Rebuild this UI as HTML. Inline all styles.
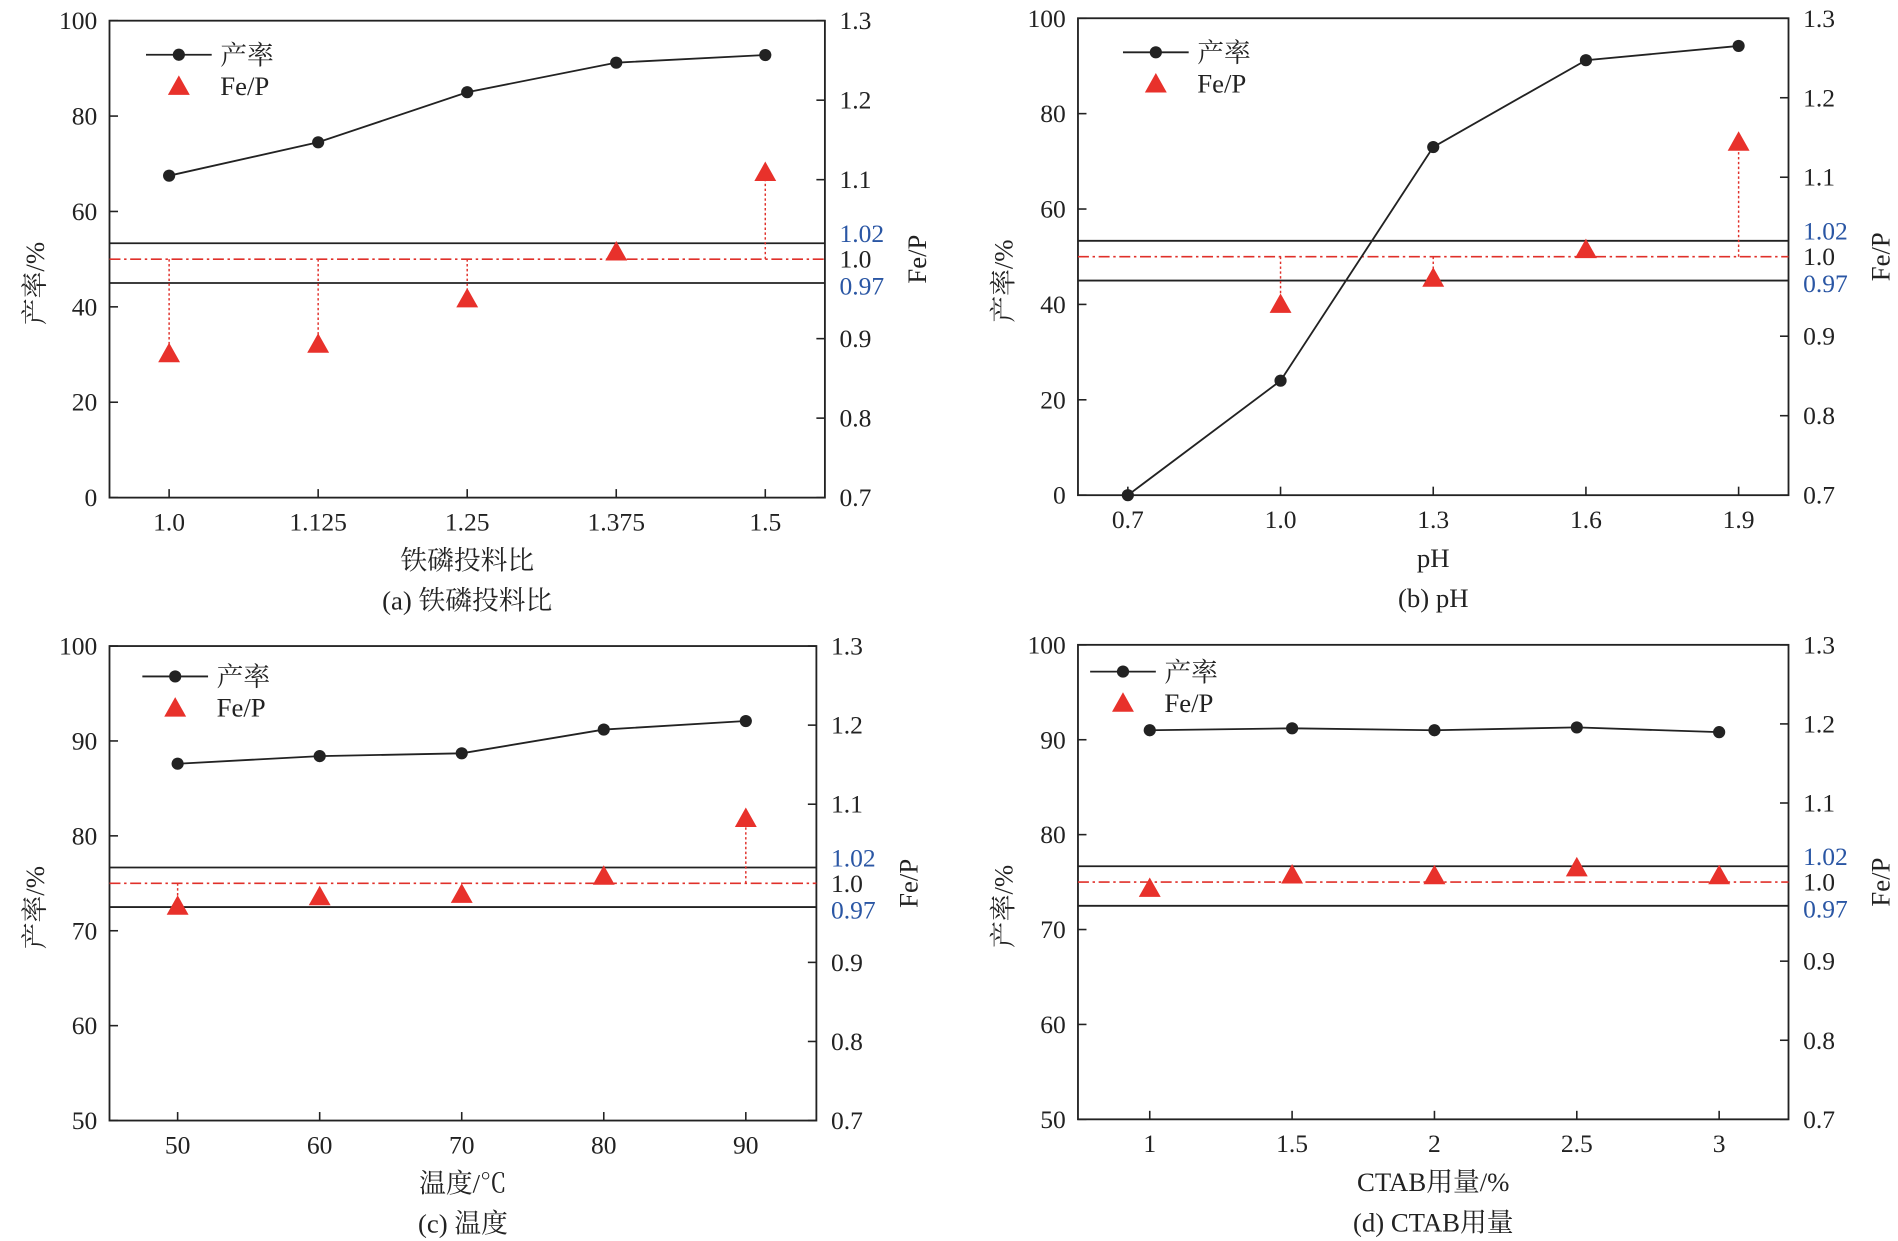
<!DOCTYPE html>
<html><head><meta charset="utf-8">
<style>
html,body{margin:0;padding:0;background:#fff;}
svg{display:block;}
text{font-family:"Liberation Serif","Noto Serif CJK SC",serif;fill:#222;}
</style></head>
<body>
<svg id="fig" width="1898" height="1241" viewBox="0 0 1560 1020" xmlns="http://www.w3.org/2000/svg"></svg>
<script>
// Panel (a)
const aCats = ["1.0","1.125","1.25","1.375","1.5"];
const aYield = [67.5, 74.5, 85, 91.2, 92.8];
const aFeP = [0.881, 0.893, 0.950, 1.009, 1.109];
const aYTicks = [0,20,40,60,80,100];
// Panel (b)
const bCats = ["0.7","1.0","1.3","1.6","1.9"];
const bYield = [0, 24, 73, 91.2, 94.2];
const bFeP = [null, 0.940, 0.973, 1.009, 1.144];
const bYTicks = [0,20,40,60,80,100];
// Panel (c)
const cCats = ["50","60","70","80","90"];
const cYield = [87.6, 88.4, 88.7, 91.2, 92.1];
const cFeP = [0.971, 0.983, 0.986, 1.009, 1.082];
const cYTicks = [50,60,70,80,90,100];
// Panel (d)
const dCats = ["1","1.5","2","2.5","3"];
const dYield = [91, 91.2, 91, 91.3, 90.8];
const dFeP = [0.992, 1.009, 1.008, 1.018, 1.008];
const dYTicks = [50,60,70,80,90,100];
const rTicks = ["0.7","0.8","0.9","1.1","1.2","1.3"];

const NS="http://www.w3.org/2000/svg";
const svg=document.getElementById('fig');
function mk(tag,attrs,parent,txt){const e=document.createElementNS(NS,tag);for(const k in attrs)e.setAttribute(k,attrs[k]);if(txt!==undefined)e.textContent=txt;(parent||svg).appendChild(e);return e;}

function panel(p){
  const g=mk('g',{});
  
  
  const L=p.l,R=p.r,T=p.t,B=p.b;
  const ymin=p.yt[0],ymax=p.yt[p.yt.length-1];
  const Y=v=>B-(v-ymin)/(ymax-ymin)*(B-T);
  const Y2=v=>B-(v-0.7)/0.6*(B-T);
  const X=i=>p.x0+i*(p.x1-p.x0)/(p.cats.length-1);
  const fr=mk('rect',{x:L,y:T,width:R-L,height:B-T,fill:'none',stroke:'#222','stroke-width':1.5},g);
  
  p.yt.forEach(v=>{
    mk('line',{x1:L,x2:L+7,y1:Y(v),y2:Y(v),stroke:'#222','stroke-width':1.3},g);
    const t=mk('text',{x:L-10,y:Y(v)+7,'text-anchor':'end','font-size':21},g,String(v));
    
  });
  rTicks.forEach(s=>{
    const v=parseFloat(s);
    mk('line',{x1:R-7,x2:R,y1:Y2(v),y2:Y2(v),stroke:'#222','stroke-width':1.3},g);
    const t=mk('text',{x:R+12,y:Y2(v)+7,'font-size':21},g,s);
    
  });
  [['1.02','#2a56a4',-21],['1.0','#222',0],['0.97','#2a56a4',22]].forEach(a=>{
    const t=mk('text',{x:R+12,y:Y2(1.0)+7+a[2],'font-size':21,style:'fill:'+a[1]},g,a[0]);
    
  });
  p.cats.forEach((c,i)=>{
    mk('line',{x1:X(i),x2:X(i),y1:B,y2:B-7,stroke:'#222','stroke-width':1.3},g);
    const t=mk('text',{x:X(i),y:B+27,'text-anchor':'middle','font-size':21},g,c);
    
  });
  [1.02,0.97].forEach(v=>{
    const l=mk('line',{x1:L,x2:R,y1:Y2(v),y2:Y2(v),stroke:'#222','stroke-width':1.5},g);
    
  });
  const ref=mk('line',{x1:L,x2:R,y1:Y2(1.0),y2:Y2(1.0),stroke:'#e0302a','stroke-width':1.3,'stroke-dasharray':'9 3 2 3'},g);
  
  p.fep.forEach((v,i)=>{
    if(v!==null && Math.abs(v-1)>0.02){
      const d=mk('line',{x1:X(i),x2:X(i),y1:Y2(1.0),y2:Y2(v),stroke:'#e0302a','stroke-width':1.2,'stroke-dasharray':'2 2'},g);
      
    }
  });
  const pts=p.yld.map((v,i)=>X(i)+','+Y(v)).join(' ');
  const pl=mk('polyline',{points:pts,fill:'none',stroke:'#222','stroke-width':1.5},g);
  
  p.yld.forEach((v,i)=>{
    const c=mk('circle',{cx:X(i),cy:Y(v),r:5,fill:'#222'},g);
    
  });
  p.fep.forEach((v,i)=>{
    if(v===null) return;
    const x=X(i),y=Y2(v);
    const tr=mk('polygon',{points:`${x},${y-9} ${x-9},${y+7} ${x+9},${y+7}`,fill:'#e8312b'},g);
    
  });
  const lx=p.lx,ly=p.ly;
  const lg=mk('g',{},g);
  mk('line',{x1:lx,x2:lx+54,y1:ly,y2:ly,stroke:'#222','stroke-width':1.5},lg);
  mk('circle',{cx:lx+27,cy:ly,r:5,fill:'#222'},lg);
  mk('text',{x:lx+61,y:ly+8,'font-size':22},lg,'产率');
  mk('polygon',{points:`${lx+27},${ly+17} ${lx+18},${ly+33} ${lx+36},${ly+33}`,fill:'#e8312b'},lg);
  mk('text',{x:lx+61,y:ly+33,'font-size':22},lg,'Fe/P');
  const yt=mk('text',{x:0,y:0,'font-size':22,'text-anchor':'middle',transform:`translate(${L-54},${(T+B)/2+20}) rotate(-90)`},g,'产率/%');
  
  const y2t=mk('text',{x:0,y:0,'font-size':22,'text-anchor':'middle',transform:`translate(${R+83},${Y2(1.0)}) rotate(-90)`},g,'Fe/P');
  
  const xt=mk('text',{x:(L+R)/2,y:B+59,'font-size':22,'text-anchor':'middle'},g,p.xlab);
  
  const cap=mk('text',{x:(L+R)/2,y:B+92,'font-size':22,'text-anchor':'middle'},g,p.cap);
  
}
panel({id:'a',l:90,r:678,t:17,b:409,x0:139,x1:629,cats:aCats,yld:aYield,fep:aFeP,yt:aYTicks,lx:120,ly:45,xlab:'铁磷投料比',cap:'(a) 铁磷投料比'});
panel({id:'b',l:886,r:1470,t:15,b:407,x0:927,x1:1429,cats:bCats,yld:bYield,fep:bFeP,yt:bYTicks,lx:923,ly:43,xlab:'pH',cap:'(b) pH'});
panel({id:'c',l:90,r:671,t:531,b:921,x0:146,x1:613,cats:cCats,yld:cYield,fep:cFeP,yt:cYTicks,lx:117,ly:556,xlab:'温度/℃',cap:'(c) 温度'});
panel({id:'d',l:886,r:1470,t:530,b:920,x0:945,x1:1413,cats:dCats,yld:dYield,fep:dFeP,yt:dYTicks,lx:896,ly:552,xlab:'CTAB用量/%',cap:'(d) CTAB用量'});
</script>
</body></html>
